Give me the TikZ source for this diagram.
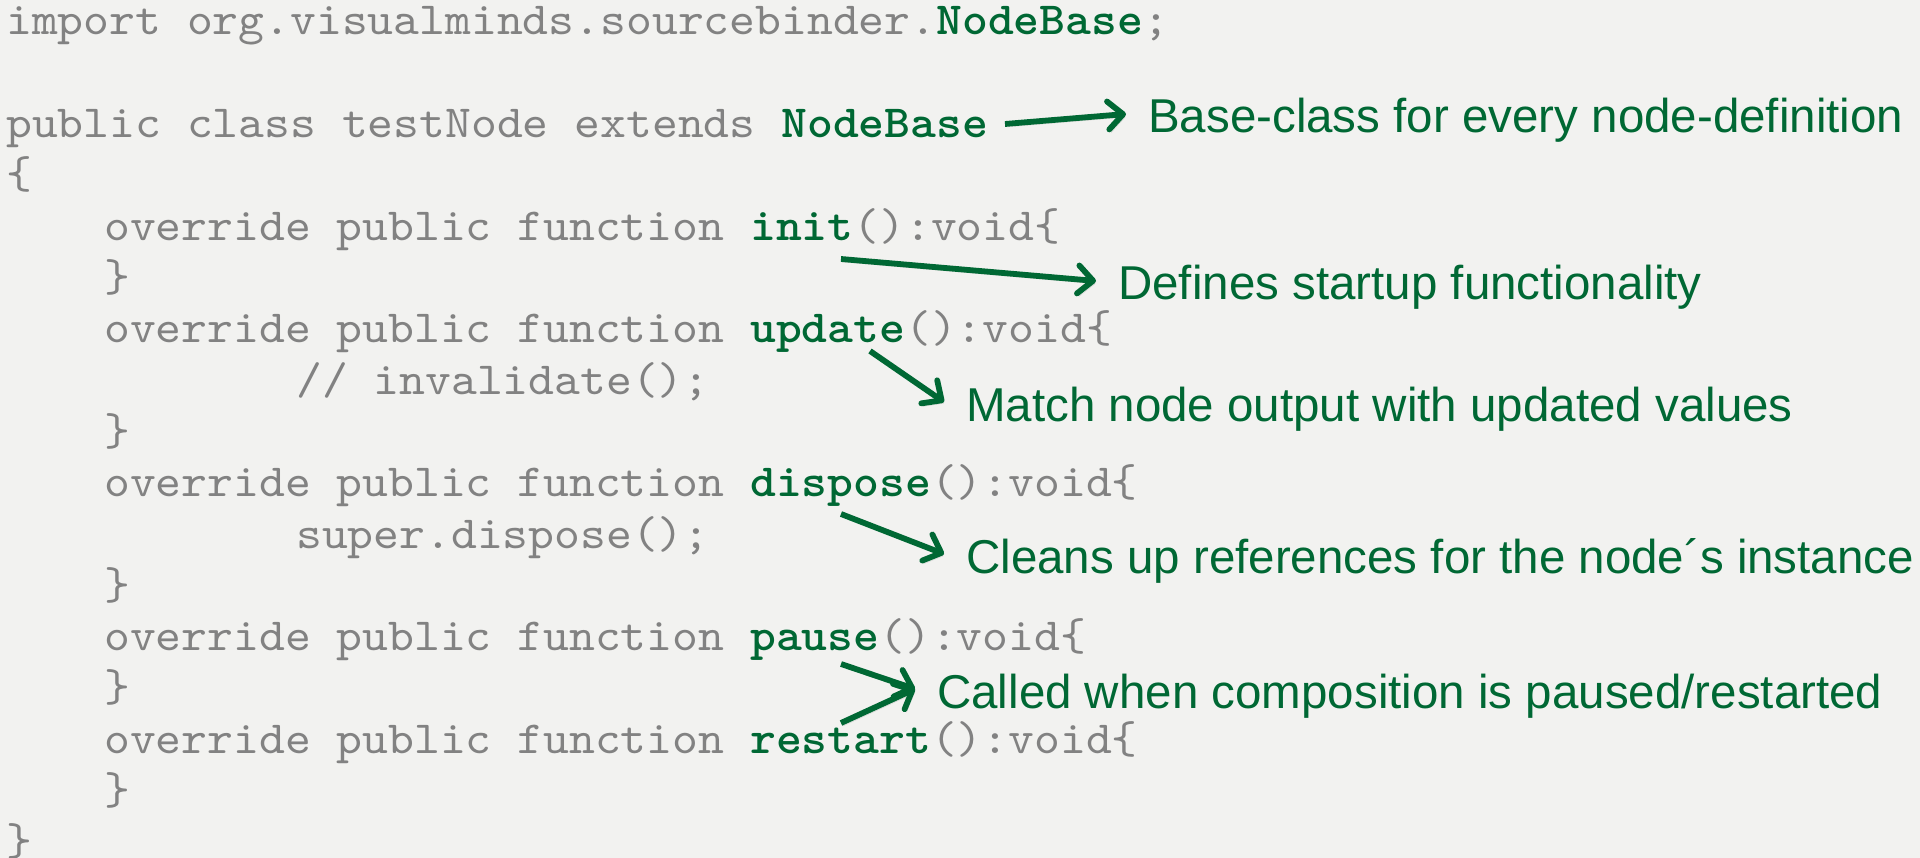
\documentclass[tikz,border=0pt]{standalone}
\usepackage{fontspec}
\usetikzlibrary{arrows.meta}
\newfontfamily\codefont{lmmono10-regular.otf}[BoldFont=lmmonolt10-bold.otf, FakeStretch=1.07]
\newfontfamily\annfont{Liberation Sans}
\definecolor{bg}{RGB}{242,242,240}
\definecolor{codegray}{RGB}{130,130,130}
\definecolor{kgreen}{RGB}{0,104,52}
\newcommand{\kw}[1]{{\bfseries\color{kgreen}#1}}
\begin{document}
\begin{tikzpicture}[x=1pt,y=-1pt,
  code/.style={anchor=base west, inner sep=0pt, text=codegray, font=\codefont\fontsize{46}{51}\selectfont},
  note/.style={anchor=base west, inner xsep=22pt, inner ysep=0pt, text height=38pt, text depth=0pt, text=kgreen, font=\annfont\fontsize{47.5}{55}\selectfont},
  pointer/.style={draw=kgreen, line width=5.8pt, -{Straight Barb[length=15pt,width=28pt,round]},
    preaction={draw=black, opacity=0.13, transform canvas={shift={(2pt,-3pt)}}}}
]
\fill[bg] (0,0) rectangle (1920,858);
\useasboundingbox (0,0) rectangle (1920,858);
% code lines
\node[code] (l1)  at (6,35)      {import org.visualminds.sourcebinder.\kw{NodeBase};};
\node[code] (l3)  at (6,137.6)   {public class testNode extends \kw{NodeBase}};
\node[code] (l4)  at (6,188.9)   {\{};
\node[code] (l5)  at (104,240.2) {override public function \kw{init}():void\{};
\node[code] (l6)  at (104,291.5) {\}};
\node[code] (l7)  at (104,342.8) {override public function \kw{update}():void\{};
\node[code] (l8)  at (296,394.1) {// invalidate();};
\node[code] (l9)  at (104,445.4) {\}};
\node[code] (l10) at (104,496.7) {override public function \kw{dispose}():void\{};
\node[code] (l11) at (296,548)   {super.dispose();};
\node[code] (l12) at (104,599.3) {\}};
\node[code] (l13) at (104,650.6) {override public function \kw{pause}():void\{};
\node[code] (l14) at (104,701.9) {\}};
\node[code] (l15) at (104,753.2) {override public function \kw{restart}():void\{};
\node[code] (l16) at (104,804.5) {\}};
\node[code] (l17) at (6,855.8)   {\}};
% annotations
\node[note] (a1) at (1126,133) {Base-class for every node-definition};
\node[note] (a2) at (1096,300) {Defines startup functionality};
\node[note] (a3) at (944,421)  {Match node output with updated values};
\node[note] (a4) at (944,573)  {Cleans up references for the node´s instance};
\node[note] (a5) at (915,708)  {Called when composition is paused/restarted};
% arrow starts
\coordinate (s1) at (1005,124);
\coordinate (s2) at (841,259);
\coordinate (s3) at (870,351);
\coordinate (s4) at (841,514);
\coordinate (s5) at (841,664);
\coordinate (s6) at (841,723);
\draw[pointer] (s1) -- (a1.west);
\draw[pointer] (s2) -- (a2.west);
\draw[pointer] (s3) -- (a3.west);
\draw[pointer] (s4) -- (a4.west);
\draw[pointer] (s5) -- (a5.west);
\draw[pointer] (s6) -- (a5.west);
\end{tikzpicture}
\end{document}
